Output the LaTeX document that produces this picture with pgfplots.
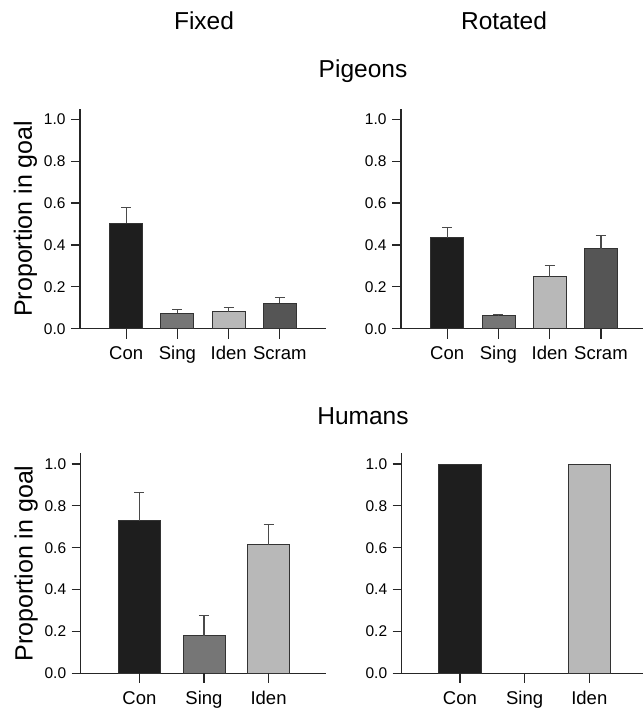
\documentclass[border=0pt]{standalone}
\usepackage{pgfplots}
\pgfplotsset{compat=1.18}
\usepackage{fontspec}
\setmainfont{Liberation Sans}
\definecolor{ccon}{HTML}{1E1E1E}
\definecolor{csing}{HTML}{767676}
\definecolor{ciden}{HTML}{B8B8B8}
\definecolor{cscram}{HTML}{555555}
\definecolor{cerr}{HTML}{4A4A4A}
\tikzset{tk/.style={draw=black!85, line width=1.2pt}}
\pgfplotsset{
  panel/.style={
    scale only axis, axis x line=bottom, axis y line=left,
    axis line style={-, line width=1.1pt, draw=black!85},
    ymin=0, ymax=1.05, ytick={0,0.2,0.4,0.6,0.8,1.0},
    y tick label style={font=\fontsize{15.5}{16}\selectfont, xshift=-2pt},
    /pgf/number format/fixed, /pgf/number format/fixed zerofill,
    /pgf/number format/precision=1, /pgf/number format/assume math mode=true,
    x tick label style={font=\fontsize{18.5}{20}\selectfont, yshift=-11pt,
      text height=0.75em, text depth=0.22em},
    xtick pos=bottom, ytick pos=left,
    xtick align=outside, ytick align=outside,
    major tick length=9pt,
    major x tick style={draw=black!85, line width=1.2pt},
    major y tick style={draw=black!85, line width=1.2pt},
    xtick={0,1,2,3},
    ylabel style={font=\fontsize{25}{28}\selectfont},
    clip=false,
  },
  bar/.style={ybar, bar width=#1, bar shift=0pt, draw=black!80, line width=0.8pt,
    error bars/y dir=plus, error bars/y explicit,
    error bars/error bar style={line width=1.1pt, draw=cerr},
    error bars/error mark options={rotate=90, mark size=5pt, line width=1.1pt, draw=cerr}},
}
\begin{document}
\begin{tikzpicture}
\useasboundingbox (0,0) rectangle (644pt,715pt);
% titles
\node[font=\fontsize{24.5}{26}\selectfont, anchor=base] at (204pt,685.7pt) {Fixed};
\node[font=\fontsize{24.5}{26}\selectfont, anchor=base] at (504pt,685.7pt) {Rotated};
\node[font=\fontsize{24.5}{26}\selectfont, anchor=base] at (363pt,637.7pt) {Pigeons};
\node[font=\fontsize{24.5}{26}\selectfont, anchor=base] at (363pt,290.7pt) {Humans};

% Pigeons - Fixed
\begin{axis}[panel, at={(80pt,386.3pt)}, anchor=south west,
  width=246pt, height=219.9pt, xmin=-0.9, xmax=3.9,
  xticklabels={Con,Sing,Iden,Scram}, ylabel={Proportion in goal}]
\addplot[bar=33pt, fill=ccon] coordinates {(0,0.503) +- (0,0.077)};
\addplot[bar=33pt, fill=csing] coordinates {(1,0.075) +- (0,0.015)};
\addplot[bar=33pt, fill=ciden] coordinates {(2,0.082) +- (0,0.021)};
\addplot[bar=33pt, fill=cscram] coordinates {(3,0.122) +- (0,0.028)};
\draw[tk] (axis cs:0,0) -- ++(0pt,-10pt);
\draw[tk] (axis cs:1,0) -- ++(0pt,-10pt);
\draw[tk] (axis cs:2,0) -- ++(0pt,-10pt);
\draw[tk] (axis cs:3,0) -- ++(0pt,-10pt);
\end{axis}

% Pigeons - Rotated
\begin{axis}[panel, at={(401pt,386.3pt)}, anchor=south west,
  width=242pt, height=219.9pt, xmin=-0.9, xmax=3.82,
  xticklabels={Con,Sing,Iden,Scram}]
\addplot[bar=33pt, fill=ccon] coordinates {(0,0.434) +- (0,0.048)};
\addplot[bar=33pt, fill=csing] coordinates {(1,0.062) +- (0,0.006)};
\addplot[bar=33pt, fill=ciden] coordinates {(2,0.248) +- (0,0.053)};
\addplot[bar=33pt, fill=cscram] coordinates {(3,0.382) +- (0,0.061)};
\draw[tk] (axis cs:0,0) -- ++(0pt,-10pt);
\draw[tk] (axis cs:1,0) -- ++(0pt,-10pt);
\draw[tk] (axis cs:2,0) -- ++(0pt,-10pt);
\draw[tk] (axis cs:3,0) -- ++(0pt,-10pt);
\end{axis}

% Humans - Fixed
\begin{axis}[panel, at={(80.7pt,41.7pt)}, anchor=south west,
  width=245.3pt, height=219.8pt, xmin=-0.91, xmax=2.89, xtick={0,1,2},
  xticklabels={Con,Sing,Iden}, ylabel={Proportion in goal}]
\addplot[bar=42pt, fill=ccon] coordinates {(0,0.729) +- (0,0.136)};
\addplot[bar=42pt, fill=csing] coordinates {(1,0.180) +- (0,0.097)};
\addplot[bar=42pt, fill=ciden] coordinates {(2,0.614) +- (0,0.095)};
\draw[tk] (axis cs:0,0) -- ++(0pt,-10pt);
\draw[tk] (axis cs:1,0) -- ++(0pt,-10pt);
\draw[tk] (axis cs:2,0) -- ++(0pt,-10pt);
\end{axis}

% Humans - Rotated
\begin{axis}[panel, at={(401.7pt,41.7pt)}, anchor=south west,
  width=241.3pt, height=219.8pt, xmin=-0.9, xmax=2.83, xtick={0,1,2},
  xticklabels={Con,Sing,Iden}]
\addplot[bar=42.7pt, fill=ccon] coordinates {(0,1.0)};
\addplot[bar=42.7pt, fill=ciden] coordinates {(2,1.0)};
\draw[tk] (axis cs:0,0) -- ++(0pt,-10pt);
\draw[tk] (axis cs:1,0) -- ++(0pt,-10pt);
\draw[tk] (axis cs:2,0) -- ++(0pt,-10pt);
\end{axis}
\end{tikzpicture}
\end{document}
